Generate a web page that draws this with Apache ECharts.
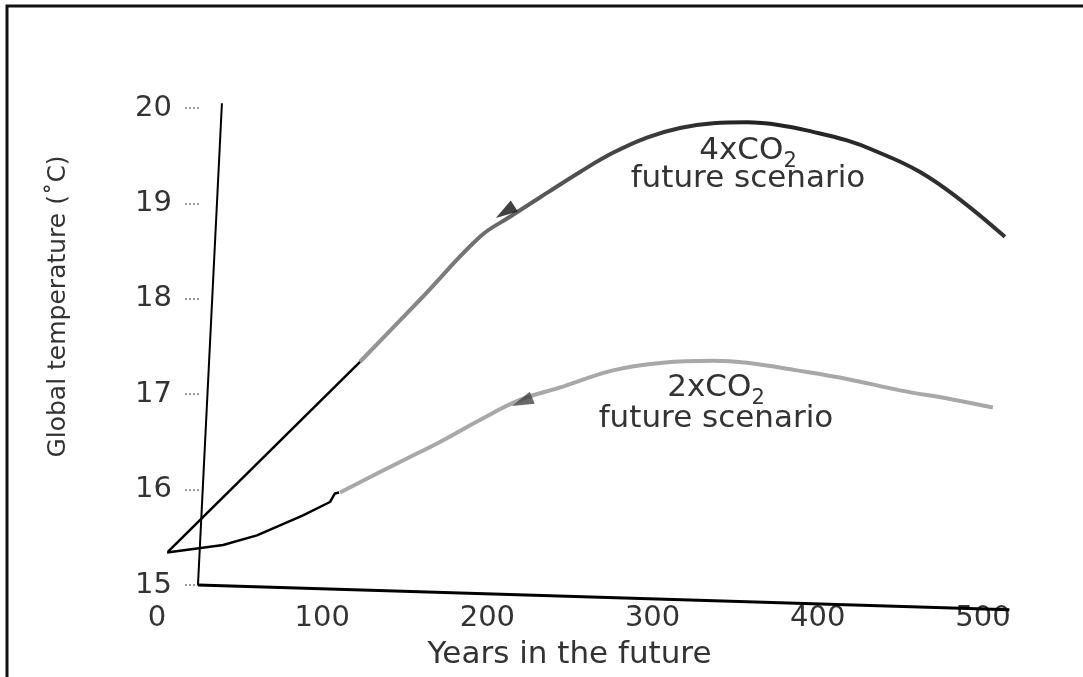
<!DOCTYPE html>
<html>
<head>
<meta charset="utf-8">
<script src="https://cdn.jsdelivr.net/npm/echarts@6/dist/echarts.min.js"></script>
<style>
  html, body { margin: 0; padding: 0; background: #fff; }
  #chart { width: 1083px; height: 677px; }
</style>
</head>
<body>
<div id="chart"></div>
<script>
// axis ranges (max a bit past 500 so the curves can run on, 500 is the last label)
const xRange = [0, 520]
const yRange = [15, 20]

// hand-drawn extensions (years, deg C)
const hand4x = [[6.7, 15.35], [122.9, 17.34]]
const hand2x = [[6.1, 15.34], [40, 15.42], [60.5, 15.52], [88.4, 15.73], [104.7, 15.87], [107.7, 15.96], [110.2, 15.97]]

// printed scenario curves
const curve4x = [[122.9, 17.34], [159.2, 17.99], [195.5, 18.65], [213.7, 18.86], [236.1, 19.11], [256.1, 19.33], [276, 19.53],
  [296.6, 19.69], [316.6, 19.79], [336.6, 19.84], [357.1, 19.85], [377.1, 19.82], [397.1, 19.75], [417.7, 19.66],
  [433.4, 19.56], [461.9, 19.33], [486.1, 19.04], [513.3, 18.65]]
const curve2x = [[110.8, 15.97], [147.1, 16.29], [171.3, 16.5], [195.5, 16.73], [219.7, 16.94], [245.8, 17.08], [276, 17.25],
  [306.3, 17.33], [336.6, 17.35], [357.1, 17.33], [387.4, 17.25], [417.7, 17.16], [449.8, 17.04], [480, 16.95], [506, 16.86]]

// arrow heads on the curves
const arrow4x = [[210.7, 18.91]]
const arrow2x = [[221, 16.92]]

// hand-drawn axes
const handYAxis = [[24.8, 15], [39.3, 20.05]]
const handXAxis = [[24.8, 15], [516, 14.74]]

const FONT = 'DejaVu Sans'
const chart = echarts.init(document.getElementById('chart'))

const handLine = (data, width) => ({
  type: 'line',
  data,
  clip: false,
  showSymbol: false,
  smooth: false,
  lineStyle: { color: '#000', width },
  z: 5
})

const coLabel = (x, y, n) => ({
  type: 'text', x, y,
  style: {
    text: '{a|' + n + 'xCO}{s|2}', align: 'center', verticalAlign: 'middle', fill: '#333',
    rich: {
      a: { fontFamily: FONT, fontSize: 31, lineHeight: 38, fill: '#333' },
      s: { fontFamily: FONT, fontSize: 21, lineHeight: 42, verticalAlign: 'bottom', fill: '#333' }
    }
  }
})

const subLabel = (x, y) => ({
  type: 'text', x, y,
  style: { text: 'future scenario', align: 'center', verticalAlign: 'middle', font: '31px "DejaVu Sans"', fill: '#333' }
})

chart.setOption({
  animation: false,
  backgroundColor: '#fff',
  grid: { left: 157, right: 67, top: 108, bottom: 92 },
  xAxis: {
    type: 'value',
    min: xRange[0],
    max: xRange[1],
    interval: 100,
    name: 'Years in the future',
    nameLocation: 'middle',
    nameGap: 54,
    nameTextStyle: { fontFamily: FONT, fontSize: 31, color: '#333', padding: [0, 34, 0, 0] },
    axisLine: { show: false },
    axisTick: { show: false },
    splitLine: { show: false },
    axisLabel: { margin: 19, fontFamily: FONT, fontSize: 29, color: '#333', showMaxLabel: false }
  },
  yAxis: {
    type: 'value',
    min: yRange[0],
    max: yRange[1],
    interval: 1,
    offset: -28,
    name: 'Global temperature (˚C)',
    nameLocation: 'middle',
    nameGap: 114,
    nameTextStyle: { fontFamily: FONT, fontSize: 25, color: '#333', padding: [0, 0, 0, 80] },
    axisLine: { show: false },
    axisTick: { show: true, inside: true, length: 14, lineStyle: { color: '#999', type: 'dotted', width: 2 } },
    splitLine: { show: false },
    axisLabel: { margin: 13, fontFamily: FONT, fontSize: 29, color: '#333' }
  },
  series: [
    handLine(handYAxis, 2),
    handLine(handXAxis, 3),
    {
      type: 'line',
      data: curve4x,
      clip: false,
      smooth: 0.4,
      showSymbol: false,
      lineStyle: {
        width: 4,
        color: new echarts.graphic.LinearGradient(0, 0, 1, 0, [
          { offset: 0, color: '#9a9a9a' },
          { offset: 0.3, color: '#555' },
          { offset: 0.6, color: '#222' },
          { offset: 1, color: '#333' }
        ])
      }
    },
    {
      type: 'line',
      data: curve2x,
      clip: false,
      smooth: 0.4,
      showSymbol: false,
      lineStyle: { width: 4, color: '#a8a8a8' }
    },
    handLine(hand4x, 2.5),
    handLine(hand2x, 2.5),
    {
      type: 'scatter',
      data: arrow4x,
      symbol: 'triangle',
      symbolSize: [13, 22],
      symbolRotate: 123,
      itemStyle: { color: '#111' },
      z: 6
    },
    {
      type: 'scatter',
      data: arrow2x,
      symbol: 'triangle',
      symbolSize: [13, 22],
      symbolRotate: 112,
      itemStyle: { color: '#444' },
      z: 6
    }
  ],
  graphic: [
    // scan frame
    { type: 'polyline', shape: { points: [[7, 677], [7, 6], [1083, 6]] }, style: { stroke: '#111', lineWidth: 3, fill: null } },
    // curve labels
    coLabel(748, 151, 4),
    subLabel(748, 179),
    coLabel(716, 388, 2),
    subLabel(716, 419)
  ]
})
</script>
</body>
</html>
